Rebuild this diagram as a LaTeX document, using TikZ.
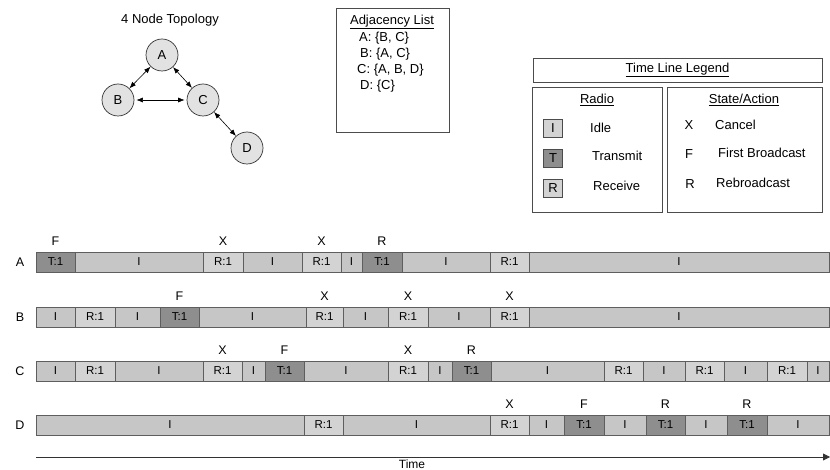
\documentclass[tikz,border=0pt]{standalone}
\usepackage{fontspec}
\setmainfont{Liberation Sans}
\usetikzlibrary{arrows.meta}
\definecolor{idlec}{HTML}{C6C6C6}
\definecolor{rxc}{HTML}{D3D3D3}
\definecolor{txc}{HTML}{8E8E8E}
\definecolor{cellbd}{HTML}{5E5E5E}
\definecolor{vertc}{HTML}{E2E2E2}
\begin{document}
\begin{tikzpicture}[x=1pt,y=-1pt,
  font=\fontsize{13}{15}\selectfont,
  vert/.style={circle, draw=black!80, fill=vertc, minimum size=32pt, inner sep=0pt, line width=0.7pt},
  dbl/.style={{Latex[length=6.5pt,width=5pt]}-{Latex[length=6.5pt,width=5pt]}, line width=0.6pt},
  frame/.style={draw=black!70, line width=0.8pt, inner sep=0pt},
  lbox/.style={draw=black!70, line width=0.7pt, minimum width=19pt, minimum height=18pt, inner sep=0pt},
  cell/.style={draw=cellbd, line width=0.8pt, minimum height=20pt, inner sep=0pt, outer sep=0pt, font=\fontsize{11.5}{13}\selectfont},
  lab/.style={inner sep=0pt, font=\fontsize{12.5}{14}\selectfont},
  rowlab/.style={inner sep=0pt, font=\fontsize{12.5}{14}\selectfont}
]
\useasboundingbox (0,0) rectangle (830,470);

% ---- topology
\node (toptitle) at (170,20) {4 Node Topology};
\node[vert] (A) at (162,55) {A};
\node[vert] (B) at (118,100) {B};
\node[vert] (C) at (203,100) {C};
\node[vert] (D) at (247,148) {D};
\draw[dbl] (A) -- (B);
\draw[dbl] (A) -- (C);
\draw[dbl, shorten <=2pt, shorten >=2pt] (B) -- (C);
\draw[dbl] (C) -- (D);

% ---- adjacency list
\node[frame, minimum width=113pt, minimum height=124pt] (adj) at (392.5,70) {};
\node (adjt) at (392,22) {\underline{Adjacency List}};
\node[anchor=west, inner sep=0pt] (adja) at (359,38) {A: \{B, C\}};
\node[anchor=west, inner sep=0pt] (adjb) at (360,54) {B: \{A, C\}};
\node[anchor=west, inner sep=0pt] (adjc) at (357,70) {C: \{A, B, D\}};
\node[anchor=west, inner sep=0pt] (adjd) at (360,86) {D: \{C\}};

% ---- legend
\node[frame, minimum width=289pt, minimum height=24pt] (legt) at (677.5,70) {};
\node (legtt) at (677.5,70) {\underline{Time Line Legend}};
\node[frame, minimum width=130pt, minimum height=125pt] (radio) at (597,149.5) {};
\node[frame, minimum width=155pt, minimum height=125pt] (state) at (744.5,149.5) {};
\node (radiot) at (597,100) {\underline{Radio}};
\node (statet) at (744,100) {\underline{State/Action}};
\node[lbox, fill=rxc] (li) at (553,128) {I};
\node[lbox, fill=txc] (lt) at (553,158) {T};
\node[lbox, fill=rxc] (lr) at (553,188) {R};
\node[anchor=west, inner sep=0pt] (lit) at (590,128) {Idle};
\node[anchor=west, inner sep=0pt] (ltt) at (592,156) {Transmit};
\node[anchor=west, inner sep=0pt] (lrt) at (593,186) {Receive};
\node[inner sep=0pt] (sx) at (689,125) {X};
\node[inner sep=0pt] (sf) at (689,154) {F};
\node[inner sep=0pt] (sr) at (690,184) {R};
\node[anchor=west, inner sep=0pt] (sxt) at (715,125) {Cancel};
\node[anchor=west, inner sep=0pt] (sft) at (718,153) {First Broadcast};
\node[anchor=west, inner sep=0pt] (srt) at (716,183) {Rebroadcast};

% ---- timelines
\node[rowlab] (rA) at (20,262) {A};
\node[rowlab] (rB) at (20,317) {B};
\node[rowlab] (rC) at (20,371) {C};
\node[rowlab] (rD) at (20,425) {D};

\foreach \s/\e/\c/\t [count=\k] in {36/75/txc/T:1, 75/203/idlec/I, 203/243/rxc/R:1, 243/302/idlec/I, 302/341/rxc/R:1, 341/362/idlec/I, 362/402/txc/T:1, 402/490/idlec/I, 490/529/rxc/R:1, 529/829/idlec/I}
  \node[cell, fill=\c, minimum width={(\e-\s)*1pt}] (A\k) at ({(\s+\e)/2},262) {\t};
\foreach \s/\e/\c/\t [count=\k] in {36/75/idlec/I, 75/115/rxc/R:1, 115/160/idlec/I, 160/199/txc/T:1, 199/306/idlec/I, 306/343/rxc/R:1, 343/388/idlec/I, 388/428/rxc/R:1, 428/490/idlec/I, 490/529/rxc/R:1, 529/829/idlec/I}
  \node[cell, fill=\c, minimum width={(\e-\s)*1pt}] (B\k) at ({(\s+\e)/2},317) {\t};
\foreach \s/\e/\c/\t [count=\k] in {36/75/idlec/I, 75/115/rxc/R:1, 115/203/idlec/I, 203/242/rxc/R:1, 242/265/idlec/I, 265/304/txc/T:1, 304/388/idlec/I, 388/428/rxc/R:1, 428/452/idlec/I, 452/491/txc/T:1, 491/604/idlec/I, 604/643/rxc/R:1, 643/685/idlec/I, 685/724/rxc/R:1, 724/767/idlec/I, 767/807/rxc/R:1, 807/829/idlec/I}
  \node[cell, fill=\c, minimum width={(\e-\s)*1pt}] (C\k) at ({(\s+\e)/2},371) {\t};
\foreach \s/\e/\c/\t [count=\k] in {36/304/idlec/I, 304/343/rxc/R:1, 343/490/idlec/I, 490/529/rxc/R:1, 529/564/idlec/I, 564/604/txc/T:1, 604/646/idlec/I, 646/685/txc/T:1, 685/727/idlec/I, 727/767/txc/T:1, 767/829/idlec/I}
  \node[cell, fill=\c, minimum width={(\e-\s)*1pt}] (D\k) at ({(\s+\e)/2},425) {\t};

% action labels
\node[lab] (Al1) at ([yshift=11pt]A1.north) {F};
\node[lab] (Al3) at ([yshift=11pt]A3.north) {X};
\node[lab] (Al5) at ([yshift=11pt]A5.north) {X};
\node[lab] (Al7) at ([yshift=11pt]A7.north) {R};
\node[lab] (Bl4) at ([yshift=11pt]B4.north) {F};
\node[lab] (Bl6) at ([yshift=11pt]B6.north) {X};
\node[lab] (Bl8) at ([yshift=11pt]B8.north) {X};
\node[lab] (Bl10) at ([yshift=11pt]B10.north) {X};
\node[lab] (Cl4) at ([yshift=11pt]C4.north) {X};
\node[lab] (Cl6) at ([yshift=11pt]C6.north) {F};
\node[lab] (Cl8) at ([yshift=11pt]C8.north) {X};
\node[lab] (Cl10) at ([yshift=11pt]C10.north) {R};
\node[lab] (Dl4) at ([yshift=11pt]D4.north) {X};
\node[lab] (Dl6) at ([yshift=11pt]D6.north) {F};
\node[lab] (Dl8) at ([yshift=11pt]D8.north) {R};
\node[lab] (Dl10) at ([yshift=11pt]D10.north) {R};

% ---- time axis
\coordinate (ts) at (36,457);
\coordinate (te) at (830,457);
\draw[line width=0.8pt, draw=black!80, -{Triangle[length=7pt,width=7pt]}] (ts) -- (te);
\node[inner sep=0pt, font=\fontsize{12}{14}\selectfont] (time) at (412,464) {Time};
\end{tikzpicture}
\end{document}
